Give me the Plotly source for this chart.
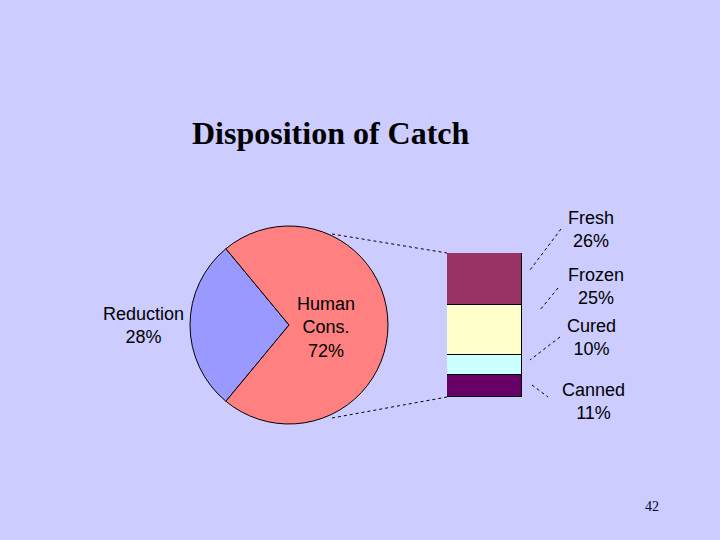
import plotly.graph_objects as go

# ---- data ----
pie_labels = ["Reduction", "Human<br>Cons."]
pie_values = [28, 72]
pie_colors = ["#9999FF", "#FF8080"]

bar_labels = ["Canned", "Cured", "Frozen", "Fresh"]
bar_values = [11, 10, 25, 26]
bar_colors = ["#660066", "#CCFFFF", "#FFFFCC", "#993366"]

title_text = "Disposition of Catch"
page_number = "42"

W, H = 720, 540
def px(x): return x / W
def py(y): return 1 - y / H

fig = go.Figure()

# Pie (center ~ (289,325), radius ~99)
fig.add_trace(go.Pie(
    labels=pie_labels, values=pie_values, sort=False,
    direction="clockwise", rotation=270 - pie_values[0] / 100 * 180,
    marker=dict(colors=pie_colors, line=dict(color="black", width=1)),
    textinfo="none", hoverinfo="label+percent", showlegend=False,
    domain=dict(x=[px(190), px(388)], y=[py(424), py(226)]),
))

# Stacked bar
for lab, val, col in zip(bar_labels, bar_values, bar_colors):
    fig.add_trace(go.Bar(
        x=[0], y=[val], name=lab, width=1,
        marker=dict(color=col, line=dict(color="black", width=1)),
        showlegend=False, xaxis="x", yaxis="y",
    ))

total_bar = sum(bar_values)
fig.update_layout(
    barmode="stack",
    width=W, height=H,
    margin=dict(l=0, r=0, t=0, b=0),
    paper_bgcolor="#CCCCFF", plot_bgcolor="rgba(0,0,0,0)",
    xaxis=dict(domain=[px(447), px(522)], range=[-0.5, 0.5], visible=False, fixedrange=True),
    yaxis=dict(domain=[py(397), py(253)], range=[0, total_bar], visible=False, fixedrange=True),
    bargap=0,
)

annotations = []
def ann(text, x, y, font):
    return dict(text=text, x=px(x), y=py(y), xref="paper", yref="paper",
                xanchor="center", yanchor="middle", showarrow=False, font=font, align="center")

# Title
annotations.append(ann("<b>" + title_text + "</b>", 331, 133,
                       dict(family="Liberation Serif", size=32, color="black")))
# Page number
annotations.append(ann(page_number, 652, 506,
                       dict(family="Liberation Serif", size=14, color="#000033")))

lab_font = dict(family="Liberation Sans, Arial", size=18, color="black")
# Pie labels
pie_pos = [(143, 325), (326, 327)]
for lab, val, (x, y) in zip(pie_labels, pie_values, pie_pos):
    annotations.append(ann(f"{lab}<br>{val}%", x, y, lab_font))
# Bar labels
bar_pos = {"Fresh": (591, 229), "Frozen": (596, 286), "Cured": (591, 337), "Canned": (593, 401)}
for lab, val in zip(bar_labels, bar_values):
    x, y = bar_pos[lab]
    annotations.append(ann(f"{lab}<br>{val}%", x, y, lab_font))
fig.update_layout(annotations=annotations)

# Dotted connector and leader lines
dot = dict(color="black", width=1, dash="dot")
lines = [
    (332, 234, 447, 253), (332, 418, 447, 397),  # pie -> bar connectors
    (561, 229, 530, 270),  # Fresh
    (558, 288, 540, 310),  # Frozen
    (560, 337, 530, 360),  # Cured
    (532, 385, 548, 397),  # Canned
]
shapes = []
for x0, y0, x1, y1 in lines:
    shapes.append(dict(type="line", xref="paper", yref="paper",
                       x0=px(x0), y0=py(y0), x1=px(x1), y1=py(y1), line=dot))
fig.update_layout(shapes=shapes)

fig.write_html("out.html", config={"displayModeBar": False},
               post_script="document.body.style.margin='0';")
